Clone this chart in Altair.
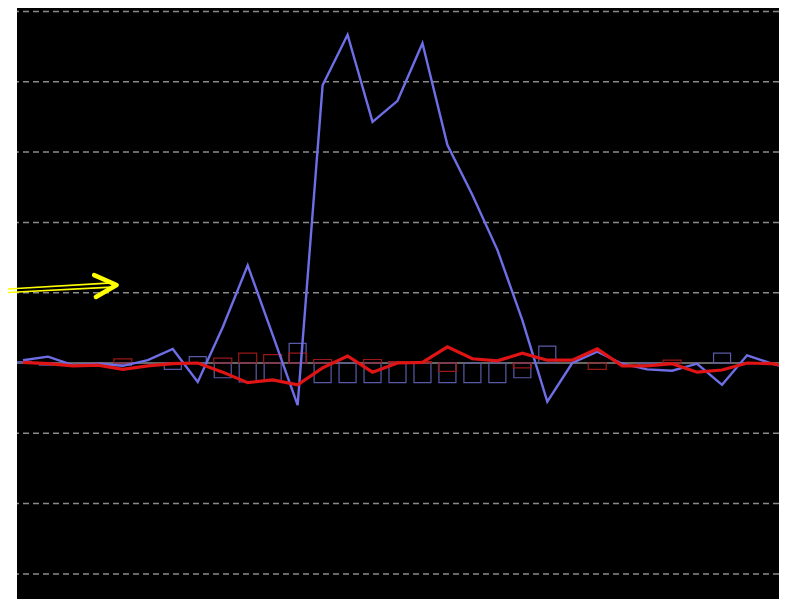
import altair as alt
import pandas as pd

# x positions are sample indices 0..31
idx = list(range(32))

blue_line = [0.04, 0.09, -0.03, -0.01, -0.04, 0.04, 0.20, -0.27, 0.51, 1.39,
             0.40, -0.60, 3.95, 4.67, 3.43, 3.73, 4.55, 3.10, 2.39, 1.61,
             0.61, -0.55, 0.0, 0.16, -0.01, -0.09, -0.11, -0.01, -0.31, 0.11,
             -0.01, -0.10]

red_line = [0.01, -0.01, -0.04, -0.03, -0.09, -0.04, -0.01, 0.0, -0.13, -0.28,
            -0.24, -0.31, -0.07, 0.10, -0.13, 0.0, 0.01, 0.23, 0.06, 0.03,
            0.14, 0.04, 0.04, 0.20, -0.04, -0.04, -0.01, -0.13, -0.10, 0.0,
            -0.01, -0.07]

blue_bars = [0.02, -0.03, 0, 0, -0.03, 0, -0.09, 0.09, -0.21, -0.27,
             -0.25, 0.28, -0.28, -0.28, -0.28, -0.28, -0.28, -0.28, -0.28, -0.28,
             -0.21, 0.24, 0, 0, 0, -0.03, 0, 0, 0.14, 0,
             0, 0]

red_bars = [0, 0, 0, 0, 0.06, 0, 0, 0, 0.07, 0.14,
            0.12, 0.14, 0.05, 0, 0.05, 0.02, 0.02, -0.12, 0, 0,
            -0.07, 0, 0, -0.09, 0, 0, 0.04, 0, 0, 0,
            0, 0]

grid_values = [-3, -2, -1, 1, 2, 3, 4, 5]

# annotation arrow (data coordinates)
arrow_shaft1_x = [-0.71, 3.56]
arrow_shaft1_y = [1.05, 1.14]
arrow_shaft2_x = [-0.71, 3.56]
arrow_shaft2_y = [1.00, 1.08]
arrow_head_x = [2.85, 3.75, 2.92]
arrow_head_y = [1.25, 1.11, 0.94]

X_DOMAIN = [-0.04, 30.08]
Y_DOMAIN = [-3.357, 5.05]

lines = pd.DataFrame({"i": idx, "blue": blue_line, "red": red_line})
bb = pd.DataFrame({"i": idx, "v": blue_bars})
bb = bb[bb.v != 0]
rb = pd.DataFrame({"i": idx, "v": red_bars})
rb = rb[rb.v != 0]

xs = alt.Scale(domain=X_DOMAIN, nice=False, zero=False)
ys = alt.Scale(domain=Y_DOMAIN, nice=False, zero=False)
xax = alt.X("i:Q", scale=xs, axis=None)

grid = alt.Chart(pd.DataFrame({"g": grid_values})).mark_rule(
    color="#8a8a8a", strokeWidth=1.5, strokeDash=[6, 4]
).encode(y=alt.Y("g:Q", scale=ys, axis=None))

zero = alt.Chart(pd.DataFrame({"z": [0]})).mark_rule(
    color="#8a8a8a", strokeWidth=1.5
).encode(y=alt.Y("z:Q", scale=ys, axis=None))

bbars = alt.Chart(bb).mark_bar(
    filled=False, stroke="#5a5aa8", strokeWidth=1.2, size=17, clip=True
).encode(x=xax, y=alt.Y("v:Q", scale=ys, axis=None), y2=alt.datum(0))

rbars = alt.Chart(rb).mark_bar(
    filled=False, stroke="#9a1818", strokeWidth=1.2, size=18, clip=True
).encode(x=xax, y=alt.Y("v:Q", scale=ys, axis=None), y2=alt.datum(0))

bline = alt.Chart(lines).mark_line(
    color="#6e6ee6", strokeWidth=2.4, clip=True
).encode(x=xax, y=alt.Y("blue:Q", scale=ys, axis=None))

rline = alt.Chart(lines).mark_line(
    color="#e01414", strokeWidth=3.2, clip=True
).encode(x=xax, y=alt.Y("red:Q", scale=ys, axis=None))

s1 = alt.Chart(pd.DataFrame({"x": arrow_shaft1_x, "y": arrow_shaft1_y})).mark_line(
    color="#ffff00", strokeWidth=1.6
).encode(x=alt.X("x:Q", scale=xs, axis=None), y=alt.Y("y:Q", scale=ys, axis=None))
s2 = alt.Chart(pd.DataFrame({"x": arrow_shaft2_x, "y": arrow_shaft2_y})).mark_line(
    color="#ffff00", strokeWidth=1.6
).encode(x=alt.X("x:Q", scale=xs, axis=None), y=alt.Y("y:Q", scale=ys, axis=None))
head = alt.Chart(pd.DataFrame({"x": arrow_head_x, "y": arrow_head_y, "o": [0, 1, 2]})).mark_line(
    color="#ffff00", strokeWidth=4.5, strokeCap="round", strokeJoin="round"
).encode(x=alt.X("x:Q", scale=xs, axis=None), y=alt.Y("y:Q", scale=ys, axis=None),
         order="o:Q")

chart = alt.layer(grid, zero, bbars, rbars, bline, rline, s1, s2, head).properties(
    width=762, height=591,
    padding={"left": 9, "top": 0, "right": 0, "bottom": 0},
    autosize=alt.AutoSizeParams(type="none"),
    background="white",
).configure_view(fill="black", strokeWidth=0)

chart.save("out.html", embed_options={"renderer": "svg", "actions": False})
